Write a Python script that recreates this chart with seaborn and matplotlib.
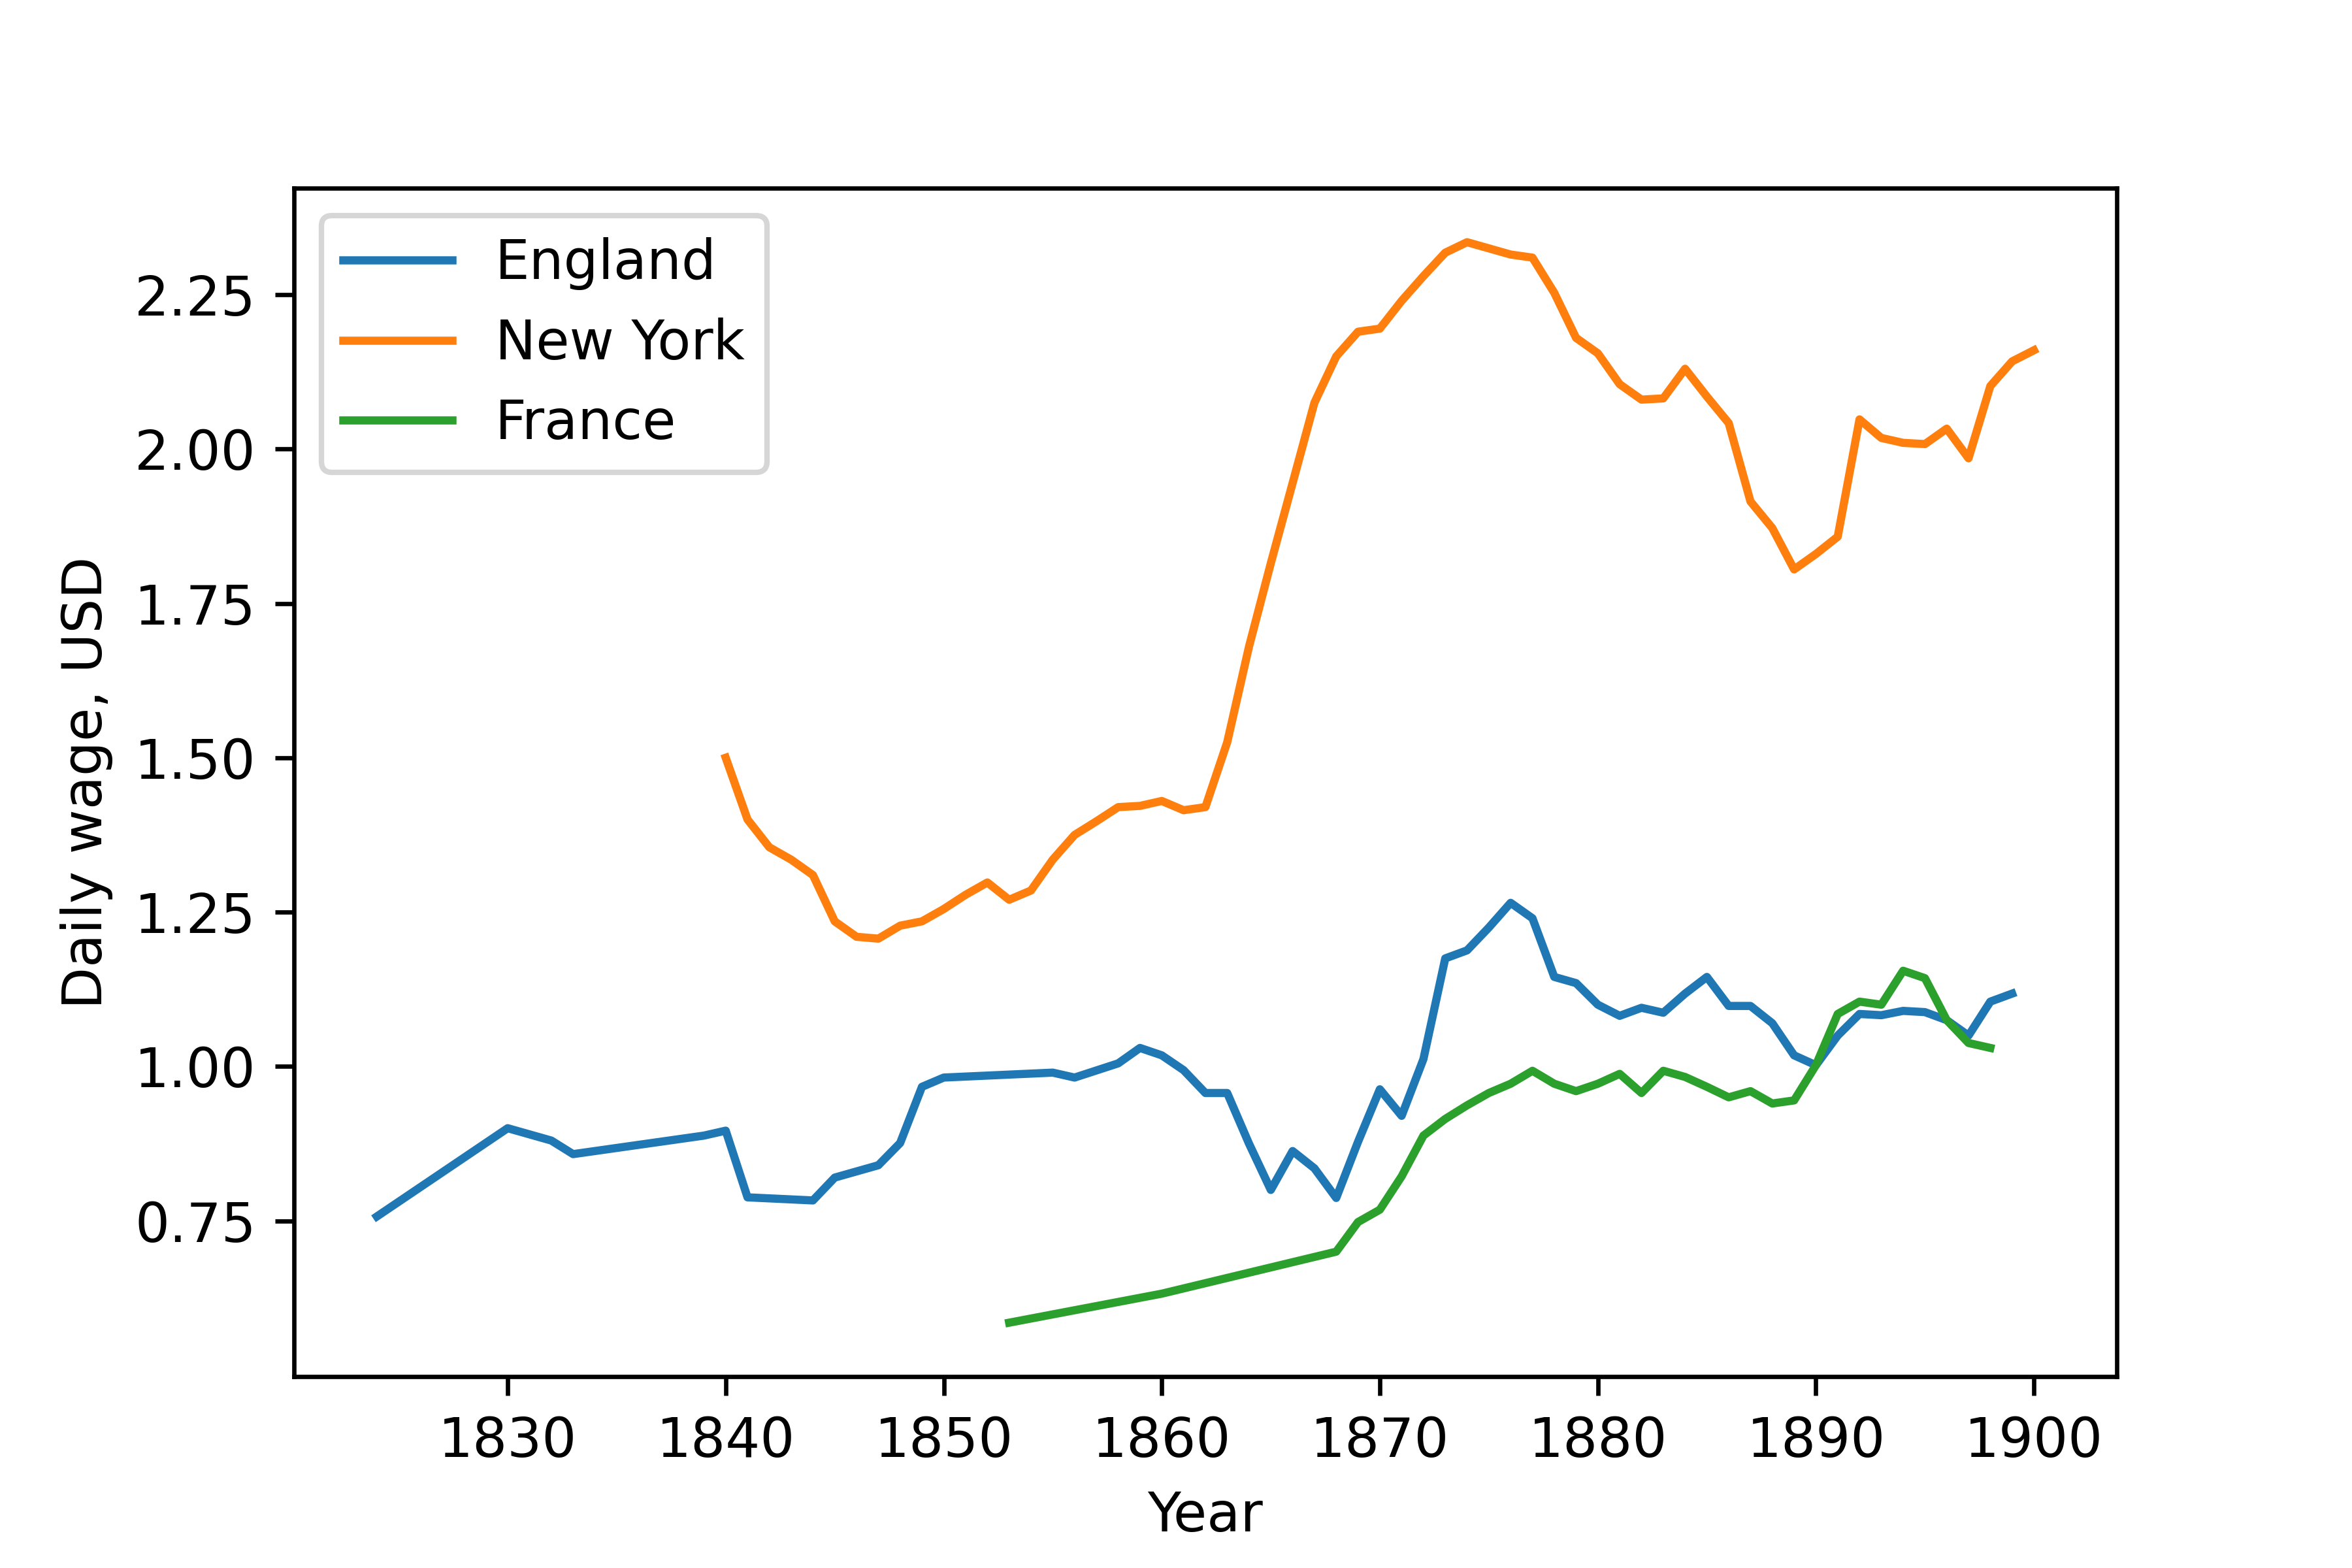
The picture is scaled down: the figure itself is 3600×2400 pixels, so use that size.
import pandas as pd
import seaborn as sns
from matplotlib import pyplot as plt

england_years = [1824, 1830, 1832, 1833, 1839, 1840, 1841, 1844, 1845, 1847, 1848, 1849, 1850,
                 1855, 1856, 1858, 1859, 1860, 1861, 1862, 1863, 1864, 1865, 1866, 1867, 1868,
                 1869, 1870, 1871, 1872, 1873, 1874, 1875, 1876, 1877, 1878, 1879, 1880, 1881,
                 1882, 1883, 1884, 1885, 1886, 1887, 1888, 1889, 1890, 1891, 1892, 1893, 1894,
                 1895, 1896, 1897, 1898, 1899]
england_wage = [0.757, 0.90, 0.88, 0.858, 0.888, 0.896, 0.788, 0.783, 0.82, 0.84, 0.876, 0.967, 0.982,
                0.99, 0.982, 1.005, 1.03, 1.018, 0.994, 0.957, 0.957, 0.875, 0.80, 0.863, 0.835, 0.787,
                0.878, 0.963, 0.92, 1.012, 1.175, 1.188, 1.225, 1.265, 1.24, 1.145, 1.135, 1.10, 1.082,
                1.095, 1.087, 1.118, 1.145, 1.098, 1.098, 1.07, 1.018, 1.002, 1.05, 1.085, 1.083, 1.09,
                1.088, 1.075, 1.05, 1.105, 1.118]

ny_years = list(range(1840, 1901))
ny_wage = [1.50, 1.40, 1.355, 1.335, 1.31, 1.235, 1.21, 1.207, 1.228, 1.235, 1.255, 1.278, 1.298,
           1.27, 1.285, 1.335, 1.375, 1.397, 1.42, 1.422, 1.43, 1.415, 1.42, 1.525, 1.68, 1.815,
           1.945, 2.075, 2.15, 2.19, 2.195, 2.24, 2.28, 2.318, 2.335, 2.325, 2.315, 2.31, 2.253,
           2.18, 2.155, 2.105, 2.08, 2.082, 2.13, 2.085, 2.042, 1.915, 1.872, 1.805, 1.83, 1.858,
           2.048, 2.018, 2.01, 2.008, 2.033, 1.985, 2.102, 2.142, 2.16]

france_years = [1853, 1860] + list(range(1868, 1899))
france_wage = [0.585, 0.632, 0.70, 0.748, 0.768, 0.822, 0.888, 0.915, 0.937, 0.957, 0.972, 0.993,
               0.972, 0.96, 0.972, 0.988, 0.957, 0.993, 0.983, 0.967, 0.95, 0.96, 0.94, 0.945,
               1.002, 1.085, 1.105, 1.10, 1.155, 1.143, 1.075, 1.038, 1.03]

df = pd.concat([
    pd.DataFrame({'Year': england_years, 'Wage': england_wage, 'Country': 'England'}),
    pd.DataFrame({'Year': ny_years, 'Wage': ny_wage, 'Country': 'New York'}),
    pd.DataFrame({'Year': france_years, 'Wage': france_wage, 'Country': 'France'}),
])

fig, ax = plt.subplots(figsize=(6, 4), dpi=600)
fig.subplots_adjust(bottom=0.122)
sns.lineplot(data=df, x='Year', y='Wage', hue='Country', ax=ax)
ax.set_xlabel('Year')
ax.set_ylabel('Daily wage, USD')
ax.set_yticks([0.75, 1.0, 1.25, 1.5, 1.75, 2.0, 2.25])
ax.legend(loc='upper left')
fig.savefig('out.png', dpi=600)
